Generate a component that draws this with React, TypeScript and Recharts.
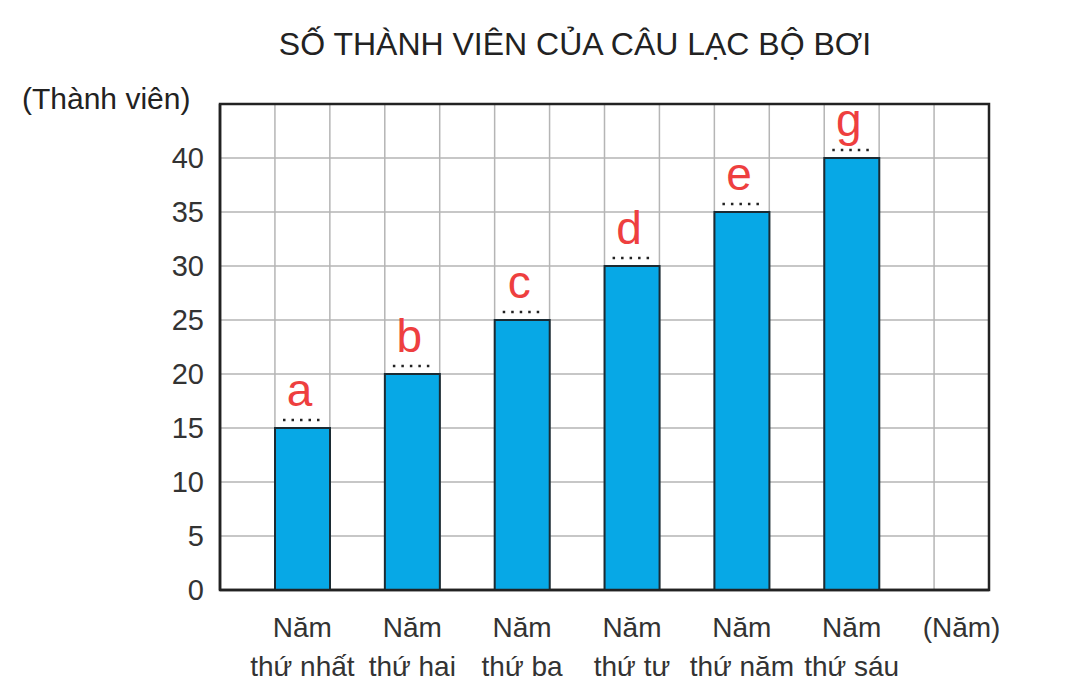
import { BarChart, Bar, XAxis, YAxis, CartesianGrid, LabelList, ReferenceArea } from 'recharts'

// values
const years = ['Năm thứ nhất', 'Năm thứ hai', 'Năm thứ ba', 'Năm thứ tư', 'Năm thứ năm', 'Năm thứ sáu', '(Năm)']
const members = [15, 20, 25, 30, 35, 40, null]
const letters = ['a', 'b', 'c', 'd', 'e', 'g', '']
const yTicks = [0, 5, 10, 15, 20, 25, 30, 35, 40]

const data = years.map((year, i) => ({ year, spacer: 0, members: members[i], letter: letters[i] }))

const FONT = '"Liberation Sans", Arial, sans-serif'
const W = 1081
const H = 700
const PLOT_LEFT = 220
const PLOT_RIGHT = 989
const PLOT_W = PLOT_RIGHT - PLOT_LEFT
const COLS = 14

function YearTick({ x, y, payload }: any) {
  const shift = PLOT_W / years.length / 4
  const v: string = payload.value
  const parts = v.startsWith('(') ? [v] : [v.split(' ')[0], v.split(' ').slice(1).join(' ')]
  return (
    <text x={x + shift} y={y} textAnchor="middle" fontSize={28} fill="#333" fontFamily={FONT}>
      {parts.map((p, i) => (
        <tspan key={i} x={x + shift} dy={i === 0 ? 39 : 39}>{p}</tspan>
      ))}
    </text>
  )
}

function LetterMark({ x, y, width, value }: any) {
  if (!value) return null
  return (
    <g>
      <line x1={x + 8} x2={x + width - 5} y1={y - 8} y2={y - 8} stroke="#222" strokeWidth={2.5} strokeDasharray="2.5 6" />
      <text x={x + width / 2 - 3} y={y - 22} textAnchor="middle" fontSize={46} fill="#ee3f3f" fontFamily={FONT}>{value}</text>
    </g>
  )
}

export default function App() {
  return (
    <div style={{ position: 'absolute', left: 0, top: 0, width: W, height: H, background: '#fff', fontFamily: FONT }}>
      <div style={{ position: 'absolute', left: 0, width: 1150, top: 26, textAlign: 'center', fontSize: 32, color: '#222' }}>
        SỐ THÀNH VIÊN CỦA CÂU LẠC BỘ BƠI
      </div>
      <div style={{ position: 'absolute', left: 22, top: 82, fontSize: 30, color: '#222' }}>(Thành viên)</div>
      <BarChart
        width={W}
        height={H}
        data={data}
        margin={{ top: 104, right: W - PLOT_RIGHT, bottom: 30, left: PLOT_LEFT - 60 }}
        barGap={0}
        barCategoryGap={0}
      >
        <CartesianGrid
          stroke="#b5b5b5"
          strokeWidth={1.5}
          verticalCoordinatesGenerator={({ offset }: any) =>
            Array.from({ length: COLS + 1 }, (_, i) => offset.left + (offset.width * i) / COLS)
          }
        />
        <XAxis
          dataKey="year"
          height={80}
          interval={0}
          tickLine={false}
          axisLine={{ stroke: '#222', strokeWidth: 2.5 }}
          tick={<YearTick />}
        />
        <YAxis
          width={60}
          domain={[0, 45]}
          ticks={yTicks}
          interval={0}
          tickLine={false}
          tickMargin={10}
          axisLine={{ stroke: '#222', strokeWidth: 2.5 }}
          tick={{ fontSize: 29, fill: '#333', fontFamily: FONT }}
        />
        <ReferenceArea y1={0} y2={45} fill="none" stroke="#222" strokeWidth={2.5} ifOverflow="visible" />
        <Bar dataKey="spacer" fill="none" isAnimationActive={false} />
        <Bar dataKey="members" fill="#07a8e6" stroke="#1b2b33" strokeWidth={2} isAnimationActive={false}>
          <LabelList dataKey="letter" content={<LetterMark />} />
        </Bar>
      </BarChart>
    </div>
  )
}
